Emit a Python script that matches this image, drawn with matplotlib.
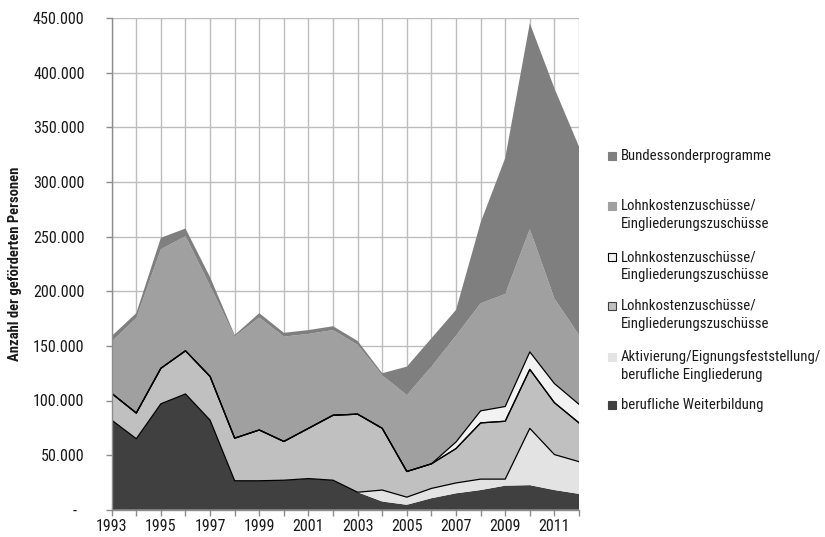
import os
import matplotlib
matplotlib.use("Agg")
import matplotlib.pyplot as plt
from matplotlib import font_manager
from matplotlib.font_manager import FontProperties
from matplotlib.patches import Rectangle
from matplotlib.ticker import FuncFormatter, MultipleLocator
import numpy as np

years = list(range(1993, 2013))

# Geförderte Personen je Instrument, in Tausend
weiterbildung = [82, 65, 97, 106, 82, 26.5, 26.5, 27, 28.5, 27,
                 16, 7.5, 4.5, 10.5, 15, 18, 22, 22.5, 18, 14.5]
aktivierung = [0, 0, 0, 0, 0, 0, 0, 0, 0, 0,
               0, 10.5, 7, 9, 9.5, 10, 6, 52, 32.5, 29.5]
lohnkosten_a = [24.5, 23.5, 32.5, 39.5, 40, 39, 46.5, 35.5, 46, 59.5,
                71.5, 56.5, 23.5, 22.5, 31.5, 51.5, 53, 54, 47.5, 35.5]
lohnkosten_b = [0, 0, 0, 0, 0, 0, 0, 0, 0, 0,
                0, 0, 0, 0, 6, 11, 13.5, 16, 17.5, 17]
lohnkosten_c = [47.5, 87, 109, 105, 83, 93, 103, 96, 86.5, 78,
                63.5, 48.5, 70, 89, 97.5, 98.5, 103, 112.5, 78, 63.5]
sonderprogramme = [5, 4.5, 10.5, 7, 8, 1.5, 4, 3.5, 3.5, 3.5,
                   3.5, 2, 26, 26, 23.5, 74, 124.5, 188.5, 192.5, 172.5]

series = [weiterbildung, aktivierung, lohnkosten_a, lohnkosten_b,
          lohnkosten_c, sonderprogramme]
labels = [
    "berufliche Weiterbildung",
    "Aktivierung/Eignungsfeststellung/\nberufliche Eingliederung",
    "Lohnkostenzuschüsse/\nEingliederungszuschüsse",
    "Lohnkostenzuschüsse/\nEingliederungszuschüsse",
    "Lohnkostenzuschüsse/\nEingliederungszuschüsse",
    "Bundessonderprogramme",
]
colors = ["#404040", "#e3e3e3", "#c0c0c0", "#f2f2f2", "#a0a0a0", "#7f7f7f"]
edged = [False, False, True, True, False, False]


# Schmale Schrift suchen (Narrow/Condensed), sonst Liberation Sans
def pick_condensed():
    prefs = [
        ("liberationsansnarrow-regular", "liberationsansnarrow-bold"),
        ("robotocondensed-regular", "robotocondensed-bold"),
        ("dejavusanscondensed.ttf", "dejavusanscondensed-bold"),
        ("notosans-condensed.ttf", "notosans-condensedbold"),
        ("opensans_condensed-regular", "opensans_condensed-bold"),
    ]
    files = [f.fname for f in font_manager.fontManager.ttflist]
    for reg, bold in prefs:
        r = [p for p in files if os.path.basename(p).lower().startswith(reg)]
        b = [p for p in files if os.path.basename(p).lower().startswith(bold)]
        if r:
            return r[0], (b[0] if b else r[0]), True
    return None, None, False


reg_file, bold_file, condensed = pick_condensed()
if condensed:
    fp = FontProperties(fname=reg_file, size=10.6)
    fp_tick = FontProperties(fname=reg_file, size=11.5)
    fp_bold = FontProperties(fname=bold_file, size=10.5)
else:
    fam = ["Liberation Sans", "DejaVu Sans"]
    fp = FontProperties(family=fam, size=9.0)
    fp_tick = FontProperties(family=fam, size=9.5)
    fp_bold = FontProperties(family=fam, size=9.0, weight="bold")

x = np.array(years)
vals = np.array(series, dtype=float) * 1000
tops = np.cumsum(vals, axis=0)
bottoms = np.vstack([np.zeros(len(years)), tops[:-1]])

W, H = 825, 537
fig = plt.figure(figsize=(8.25, 5.37), dpi=100)
ax = fig.add_axes([111.7 / W, 1 - 509.7 / H, (579 - 111.7) / W, (509.7 - 18.3) / H])

for b, t, c in zip(bottoms, tops, colors):
    ax.fill_between(x, b, t, facecolor=c, edgecolor="none", linewidth=0, zorder=2)
for b, t, e in zip(bottoms, tops, edged):
    if e:
        ax.plot(x, b, color="black", lw=0.9, zorder=3)
        ax.plot(x, t, color="black", lw=0.9, zorder=3)

ax.set_xlim(1993, 2012)
ax.set_ylim(0, 450000)
ax.yaxis.set_major_locator(MultipleLocator(50000))
ax.set_xticks(years)
ax.set_xticklabels([str(y) if (y - 1993) % 2 == 0 else "" for y in years])


def thousands(v, pos):
    if v == 0:
        return "-  "
    return f"{int(v):,}".replace(",", ".")


ax.yaxis.set_major_formatter(FuncFormatter(thousands))
ax.grid(True, color="#bdbdbd", linewidth=1.0, zorder=0)
ax.set_axisbelow(True)

for s in ["top", "right"]:
    ax.spines[s].set_visible(False)
for s in ["left", "bottom"]:
    ax.spines[s].set_color("#8c8c8c")
    ax.spines[s].set_linewidth(1.0)
    ax.spines[s].set_zorder(4)

ax.tick_params(axis="y", direction="out", length=4, width=1, color="#8c8c8c",
               pad=15.5, labelcolor="#1a1a1a")
ax.tick_params(axis="x", direction="out", length=4, width=1, color="#8c8c8c",
               pad=2.5, labelcolor="#1a1a1a")
for lab in ax.get_xticklabels() + ax.get_yticklabels():
    lab.set_fontproperties(fp_tick)

ax.set_ylabel("Anzahl der geförderten Personen", fontproperties=fp_bold,
              color="#1a1a1a")
ax.yaxis.set_label_coords(-(111.7 - 22) / (579 - 111.7), 0.5)

# Legende rechts, oberste Schicht zuerst
entry_y = [156, 206, 257, 306, 357, 405]
order = list(range(len(series)))[::-1]
for yy, i in zip(entry_y, order):
    ec = "black" if i == 3 else ("#404040" if i == 2 else colors[i])
    fig.patches.append(Rectangle((607.5 / W, 1 - (yy + 4) / H), 8 / W, 8 / H,
                                 transform=fig.transFigure, facecolor=colors[i],
                                 edgecolor=ec, linewidth=0.8))
    for k, line in enumerate(labels[i].split("\n")):
        fig.text(621 / W, 1 - (yy + 18.3 * k) / H, line, fontproperties=fp,
                 color="#1a1a1a", va="center", ha="left")

fig.savefig("out.png", dpi=100)
